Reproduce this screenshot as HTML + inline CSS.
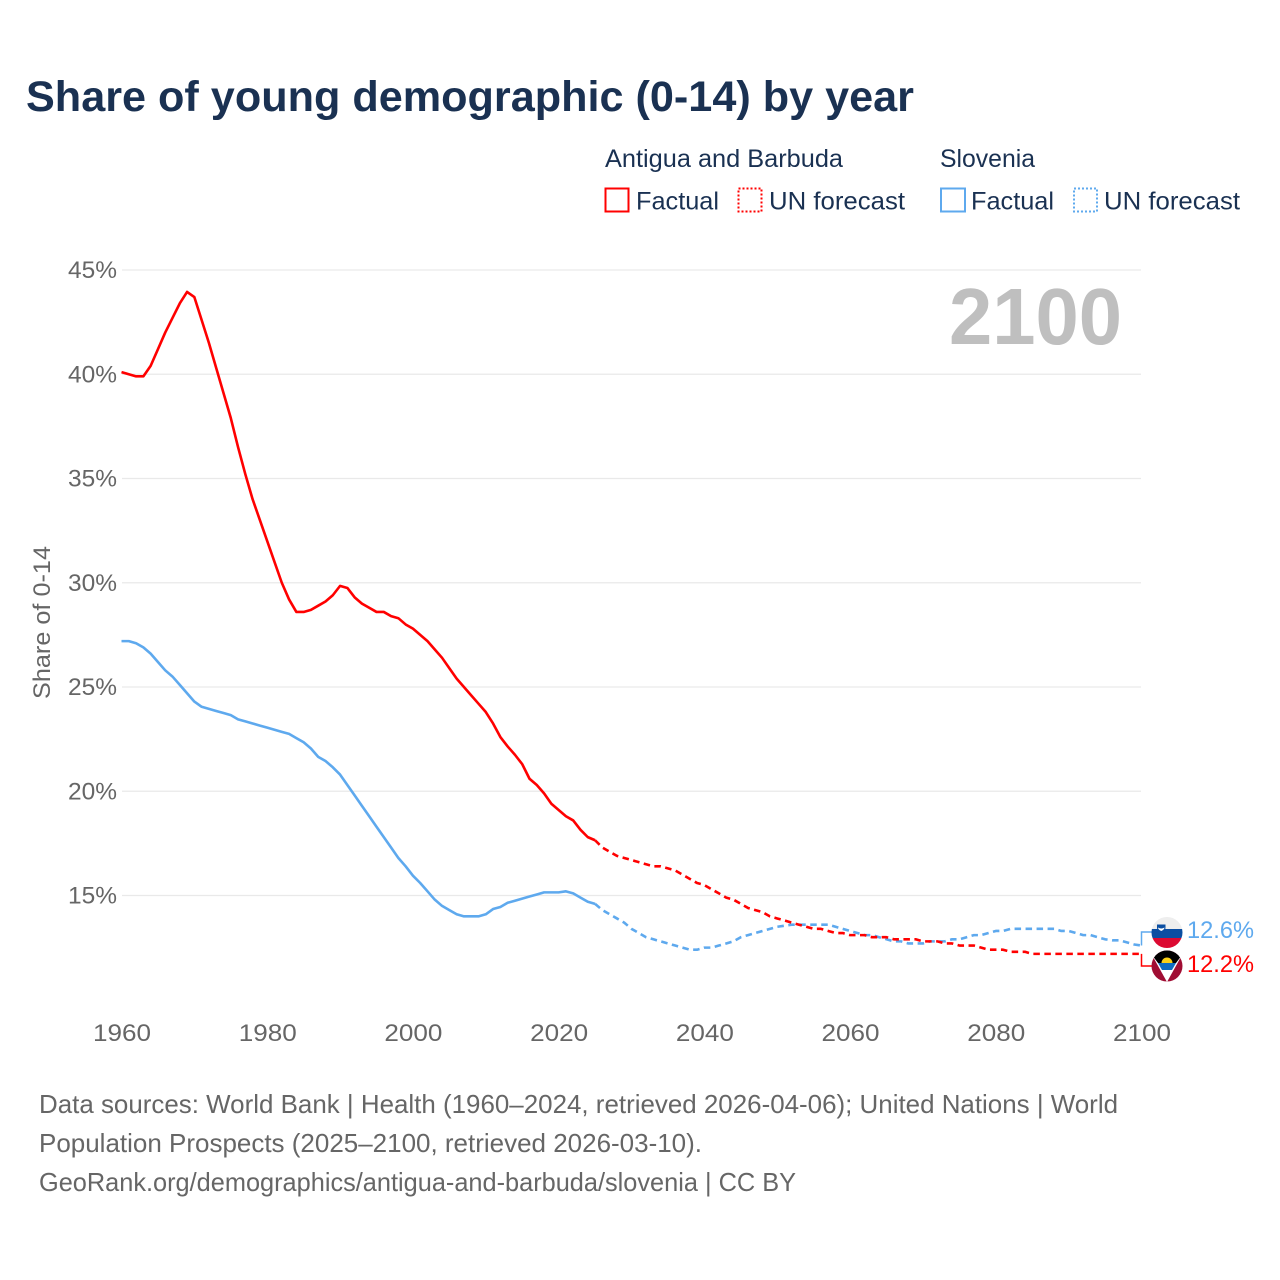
<!DOCTYPE html>
<html lang="en">
<head>
<meta charset="utf-8">
<title>Share of young demographic (0-14) by year</title>
<style>
html,body{margin:0;padding:0;background:#fff;}
svg{display:block;font-family:"Liberation Sans",sans-serif;}
</style>
</head>
<body>
<svg id="chart" width="1280" height="1280" viewBox="0 0 1280 1280">
  <rect x="0" y="0" width="1280" height="1280" fill="#fff"/>
  <text x="26" y="111" font-size="43" font-weight="700" fill="#1a3152" textLength="888" lengthAdjust="spacingAndGlyphs">Share of young demographic (0-14) by year</text>

  <text x="605" y="167" font-size="25" fill="#1a3152" textLength="238" lengthAdjust="spacingAndGlyphs">Antigua and Barbuda</text>
  <text x="940" y="167" font-size="25" fill="#1a3152" textLength="95" lengthAdjust="spacingAndGlyphs">Slovenia</text>
  <rect x="605.5" y="188.5" width="23" height="23" fill="none" stroke="#ff0000" stroke-width="2"/>
  <text x="636" y="209.5" font-size="25" fill="#1a3152" textLength="83" lengthAdjust="spacingAndGlyphs">Factual</text>
  <rect x="738.5" y="188.5" width="23" height="23" fill="none" stroke="#ff0000" stroke-width="2" stroke-dasharray="2 2"/>
  <text x="769" y="209.5" font-size="25" fill="#1a3152" textLength="136" lengthAdjust="spacingAndGlyphs">UN forecast</text>
  <rect x="941" y="188.5" width="24" height="23" fill="none" stroke="#5ea9ee" stroke-width="2"/>
  <text x="971" y="209.5" font-size="25" fill="#1a3152" textLength="83" lengthAdjust="spacingAndGlyphs">Factual</text>
  <rect x="1074" y="188.5" width="23" height="23" fill="none" stroke="#5ea9ee" stroke-width="2" stroke-dasharray="2 2"/>
  <text x="1104" y="209.5" font-size="25" fill="#1a3152" textLength="136" lengthAdjust="spacingAndGlyphs">UN forecast</text>

  <text x="949" y="344" font-size="80" font-weight="700" fill="#bfbfbf" textLength="173" lengthAdjust="spacingAndGlyphs">2100</text>

  <g id="grid"></g>
  <g id="yticks"></g>
  <g id="xticks"></g>

  <text transform="translate(50,699) rotate(-90)" x="0" y="0" font-size="24" fill="#666666" textLength="153" lengthAdjust="spacingAndGlyphs">Share of 0-14</text>

  <g id="series"></g>

  <path id="conn-slovenia" fill="none" stroke="#5ea9ee" stroke-width="1.5"></path>
  <path id="conn-antigua" fill="none" stroke="#ff0000" stroke-width="1.5"></path>

  <defs>
    <clipPath id="clip-si"><circle cx="1167" cy="932.5" r="15.5"/></clipPath>
    <clipPath id="clip-ag"><circle cx="1167" cy="966" r="15.5"/></clipPath>
  </defs>
  <g clip-path="url(#clip-si)">
    <rect x="1150" y="916" width="34" height="13" fill="#eeeeee"/>
    <rect x="1150" y="929" width="34" height="9" fill="#0b4ea2"/>
    <rect x="1150" y="938" width="34" height="12" fill="#dc0a32"/>
    <path d="M1157 924.5h8.5v3.5q0 2.5-4.25 4.5q-4.25-2-4.25-4.500z" fill="#0b4ea2"/>
    <path d="M1158 927.500q3.250 2 6.500 0q0 2-3.250 3.500q-3.250-1.500-3.250-3.500z" fill="#ffffff"/>
  </g>
  <g clip-path="url(#clip-ag)">
    <rect x="1150" y="949" width="34" height="34" fill="#a00d33"/>
    <path d="M1152 955H1182L1167 982z" fill="#ffffff"/>
    <path d="M1152 955H1182L1176 963H1158z" fill="#000000"/>
    <rect x="1155" y="950" width="24" height="6" fill="#000000"/>
    <path d="M1158 963H1176L1172 970H1162z" fill="#0f6cc0"/>
    <path d="M1161.500 963a5.500 5.500 0 0 1 11 0z" fill="#fcd116"/>
  </g>
  <text x="1187" y="938" font-size="24.5" fill="#5ea9ee" textLength="67" lengthAdjust="spacingAndGlyphs">12.6%</text>
  <text x="1187" y="972" font-size="24.5" fill="#ff0000" textLength="67" lengthAdjust="spacingAndGlyphs">12.2%</text>

  <text x="39" y="1113" font-size="26" fill="#666666" textLength="1079" lengthAdjust="spacingAndGlyphs">Data sources: World Bank | Health (1960–2024, retrieved 2026-04-06); United Nations | World</text>
  <text x="39" y="1152" font-size="26" fill="#666666" textLength="663" lengthAdjust="spacingAndGlyphs">Population Prospects (2025–2100, retrieved 2026-03-10).</text>
  <text x="39" y="1191" font-size="26" fill="#666666" textLength="757" lengthAdjust="spacingAndGlyphs">GeoRank.org/demographics/antigua-and-barbuda/slovenia | CC BY</text>
</svg>
<script>
const firstYear = 1960;
const lastFactualYear = 2025;
const yTickValues = [45, 40, 35, 30, 25, 20, 15];
const xTickValues = [1960, 1980, 2000, 2020, 2040, 2060, 2080, 2100];
const antiguaValues = [
  40.1,40.0,39.9,39.9,40.4,41.2,42.0,42.7,43.4,43.95,
  43.7,42.6,41.5,40.3,39.1,37.9,36.5,35.2,34.0,33.0,
  32.0,31.0,30.0,29.2,28.6,28.6,28.7,28.9,29.1,29.4,
  29.85,29.75,29.3,29.0,28.8,28.6,28.6,28.4,28.3,28.0,
  27.8,27.5,27.2,26.8,26.4,25.9,25.4,25.0,24.6,24.2,
  23.8,23.25,22.6,22.15,21.75,21.3,20.6,20.3,19.9,19.4,
  19.1,18.8,18.6,18.15,17.8,17.65,17.3,17.1,16.9,16.8,
  16.7,16.6,16.5,16.4,16.4,16.3,16.2,16.0,15.8,15.6,
  15.5,15.3,15.1,14.9,14.8,14.6,14.4,14.3,14.2,14.0,
  13.9,13.8,13.7,13.6,13.5,13.4,13.4,13.3,13.2,13.2,
  13.1,13.1,13.1,13.0,13.0,13.0,12.9,12.9,12.9,12.9,
  12.8,12.8,12.8,12.7,12.7,12.6,12.6,12.6,12.5,12.4,
  12.4,12.4,12.3,12.3,12.3,12.2,12.2,12.2,12.2,12.2,
  12.2,12.2,12.2,12.2,12.2,12.2,12.2,12.2,12.2,12.2,
  12.2
];
const sloveniaValues = [
  27.2,27.2,27.1,26.9,26.6,26.2,25.8,25.5,25.1,24.7,
  24.3,24.05,23.95,23.85,23.75,23.65,23.45,23.35,23.25,23.15,
  23.05,22.95,22.85,22.75,22.55,22.35,22.05,21.65,21.45,21.15,
  20.8,20.3,19.8,19.3,18.8,18.3,17.8,17.3,16.8,16.4,
  15.95,15.6,15.2,14.8,14.5,14.3,14.1,14.0,14.0,14.0,
  14.1,14.35,14.45,14.65,14.75,14.85,14.95,15.05,15.15,15.15,
  15.15,15.2,15.1,14.9,14.7,14.6,14.3,14.1,13.9,13.7,
  13.4,13.2,13.0,12.9,12.8,12.7,12.6,12.5,12.4,12.4,
  12.5,12.5,12.6,12.7,12.8,13.0,13.1,13.2,13.3,13.4,
  13.5,13.55,13.6,13.6,13.6,13.6,13.6,13.6,13.5,13.4,
  13.3,13.2,13.1,13.1,13.0,12.9,12.8,12.8,12.7,12.7,
  12.7,12.8,12.8,12.8,12.9,12.9,13.0,13.1,13.1,13.2,
  13.3,13.3,13.4,13.4,13.4,13.4,13.4,13.4,13.4,13.3,
  13.3,13.2,13.1,13.1,13.0,12.9,12.85,12.85,12.75,12.65,
  12.6
];

const SVGNS = 'http://www.w3.org/2000/svg';
function xScale(year) { return 121.5 + (year - 1960) * (1141.5 - 121.5) / 140; }
function yScale(v) { return 270 + (45 - v) * 20.85; }
function pathFor(values, fromYear, toYear) {
  let d = '';
  for (let yr = fromYear; yr <= toYear; yr++) {
    const v = values[yr - firstYear];
    d += (d ? 'L' : 'M') + xScale(yr).toFixed(2) + ' ' + yScale(v).toFixed(2);
  }
  return d;
}

const grid = document.getElementById('grid');
const yticks = document.getElementById('yticks');
yTickValues.forEach(function (t) {
  const line = document.createElementNS(SVGNS, 'line');
  line.setAttribute('x1', 122);
  line.setAttribute('x2', 1141);
  line.setAttribute('y1', yScale(t));
  line.setAttribute('y2', yScale(t));
  line.setAttribute('stroke', '#e9e9e9');
  line.setAttribute('stroke-width', '1.3');
  
  
  grid.appendChild(line);
  const label = document.createElementNS(SVGNS, 'text');
  label.setAttribute('x', 117);
  label.setAttribute('y', yScale(t) + 8);
  label.setAttribute('text-anchor', 'end');
  label.setAttribute('font-size', '24');
  label.setAttribute('fill', '#666666');
  label.setAttribute('textLength', '49');
  label.setAttribute('lengthAdjust', 'spacingAndGlyphs');
  
  
  label.textContent = t + '%';
  yticks.appendChild(label);
});

const xticks = document.getElementById('xticks');
xTickValues.forEach(function (t) {
  const label = document.createElementNS(SVGNS, 'text');
  label.setAttribute('x', xScale(t) - 28.5);
  label.setAttribute('y', 1041);
  label.setAttribute('font-size', '24');
  label.setAttribute('fill', '#666666');
  label.setAttribute('textLength', '58');
  label.setAttribute('lengthAdjust', 'spacingAndGlyphs');
  
  
  label.textContent = t;
  xticks.appendChild(label);
});

const seriesGroup = document.getElementById('series');
function addLine(values, color, fromYear, toYear, dashed, name) {
  const p = document.createElementNS(SVGNS, 'path');
  p.setAttribute('d', pathFor(values, fromYear, toYear));
  p.setAttribute('fill', 'none');
  p.setAttribute('stroke', color);
  p.setAttribute('stroke-width', '2.6');
  p.setAttribute('stroke-linejoin', 'round');
  if (dashed) { p.setAttribute('stroke-dasharray', '6.5 4.5'); }
  
  
  seriesGroup.appendChild(p);
}
addLine(sloveniaValues, '#5ea9ee', firstYear, lastFactualYear, false, 'line-slovenia-factual');
addLine(sloveniaValues, '#5ea9ee', lastFactualYear, 2100, true, 'line-slovenia-forecast');
addLine(antiguaValues, '#ff0000', firstYear, lastFactualYear, false, 'line-antigua-factual');
addLine(antiguaValues, '#ff0000', lastFactualYear, 2100, true, 'line-antigua-forecast');

const endX = xScale(2100);
document.getElementById('conn-slovenia').setAttribute('d', 'M' + endX + ' ' + yScale(sloveniaValues[140]) + 'V932H1152');
document.getElementById('conn-antigua').setAttribute('d', 'M' + endX + ' ' + yScale(antiguaValues[140]) + 'V966H1152');
</script>
</body>
</html>
